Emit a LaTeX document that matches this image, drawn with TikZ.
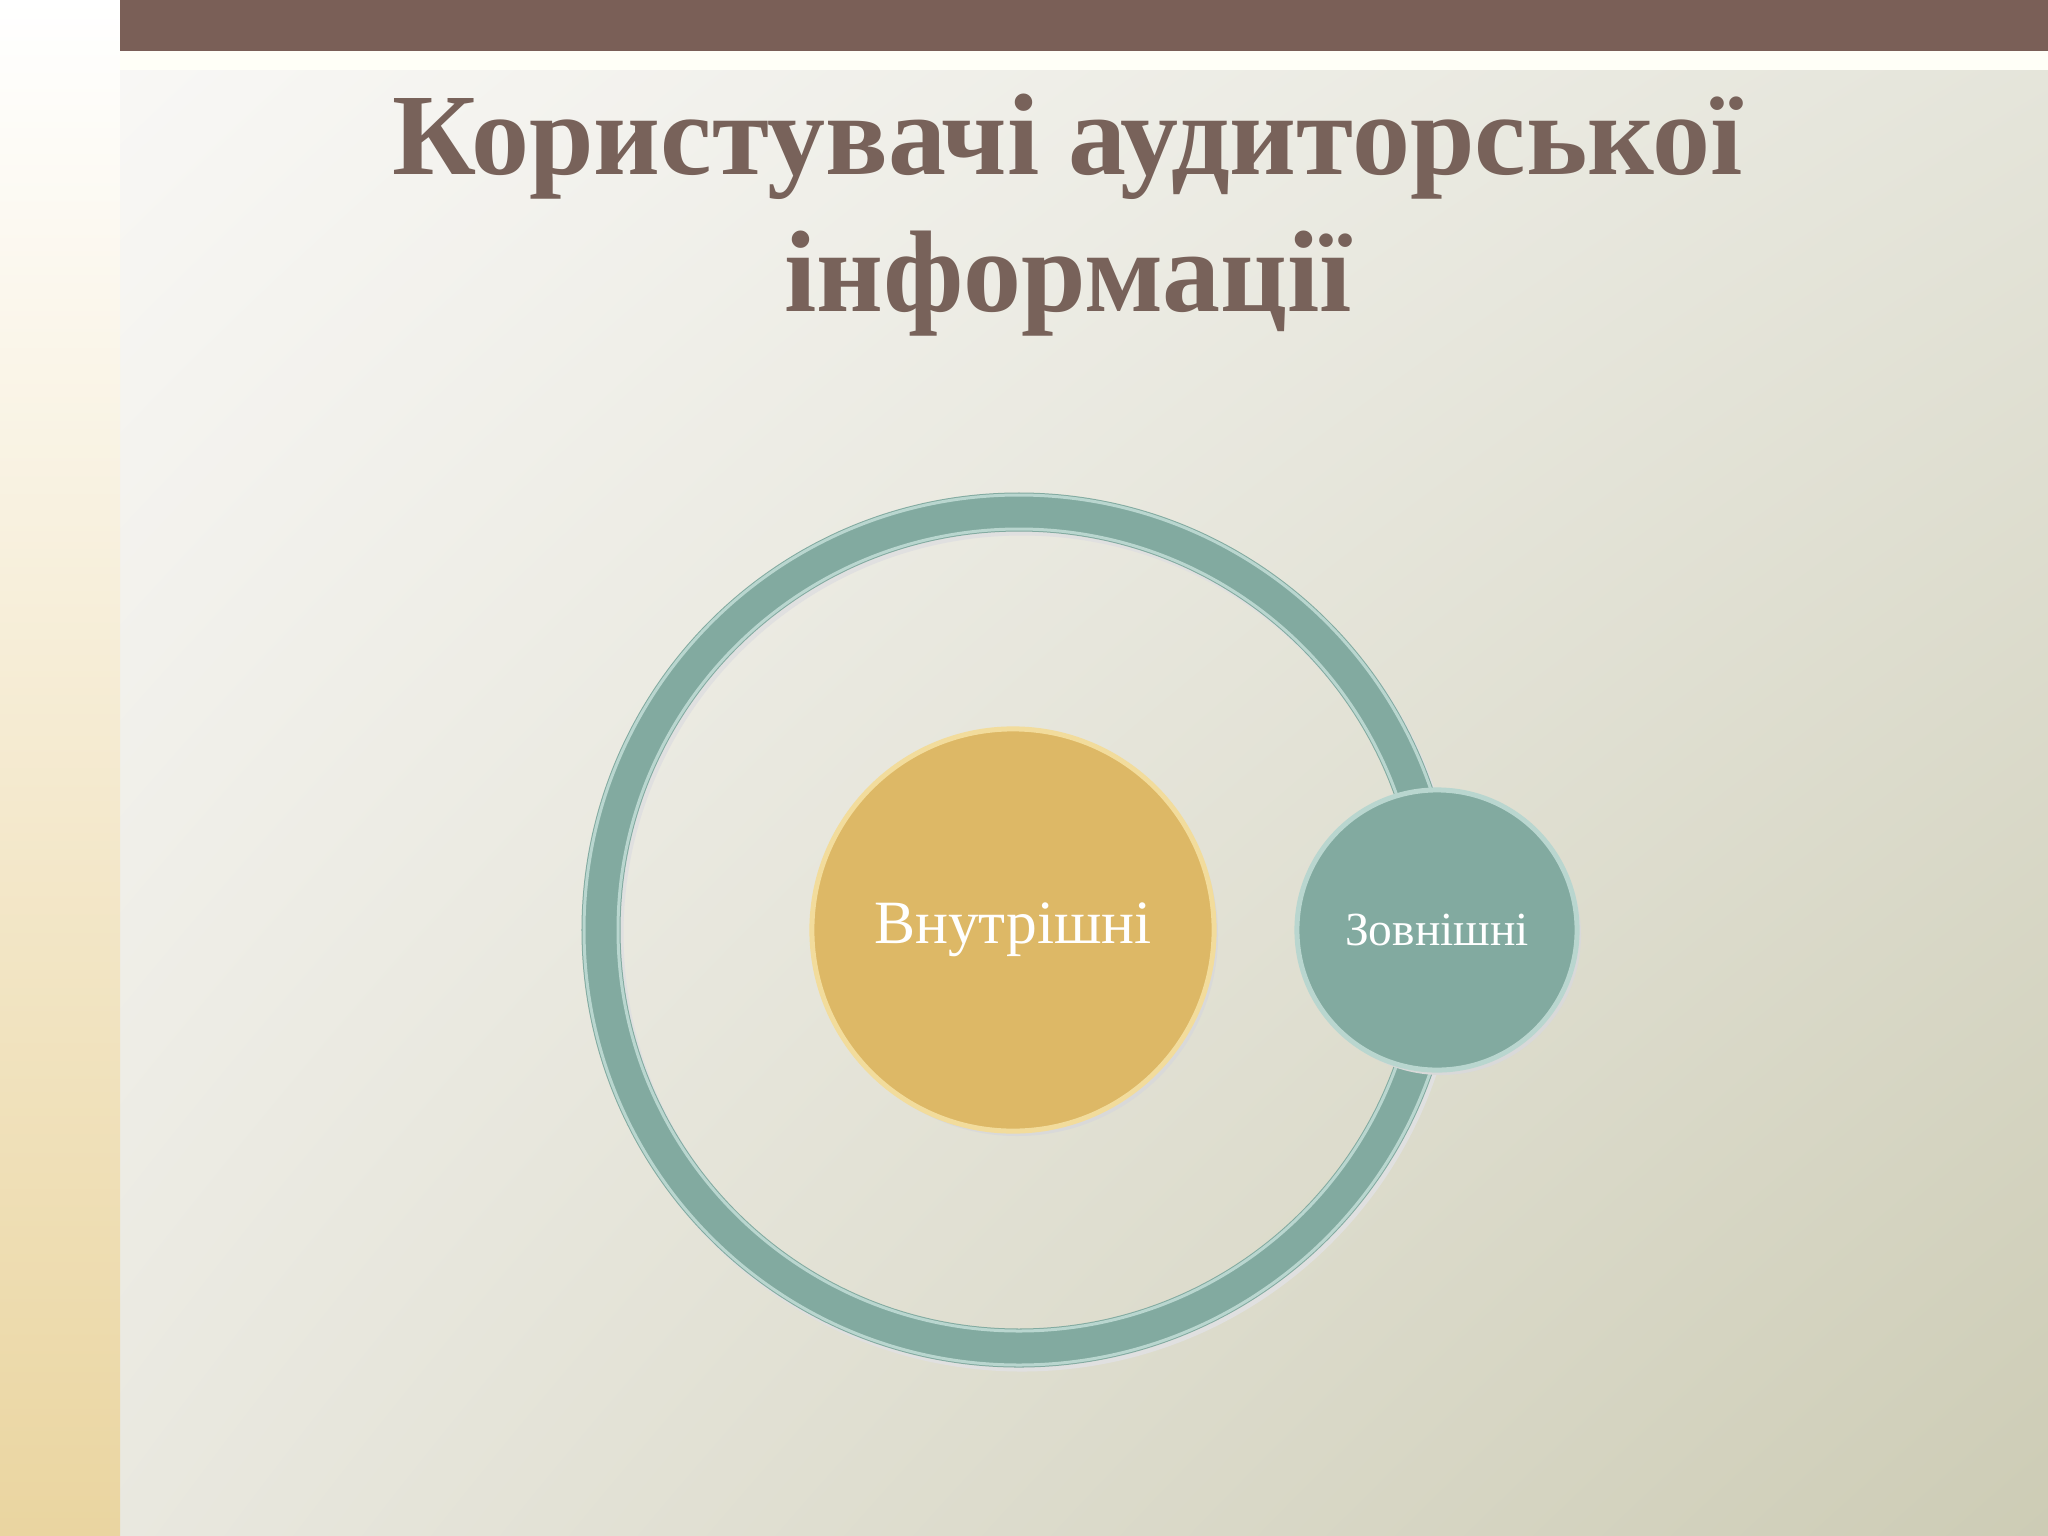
\documentclass[tikz,border=0pt]{standalone}
\usepackage{fontspec}
\setmainfont{Liberation Serif}
\usepackage{tikz}
\usetikzlibrary{shadings}

\definecolor{barbrown}{HTML}{7A5F57}
\definecolor{titlebrown}{HTML}{78625A}
\definecolor{ringteal}{HTML}{82AAA0}
\definecolor{rimteal}{HTML}{B9D6CF}
\definecolor{gold}{HTML}{DDB866}
\definecolor{rimgold}{HTML}{F2DC9C}
\definecolor{strip}{HTML}{EAD5A0}
\definecolor{bgul}{HTML}{F9F8F6}
\definecolor{bgur}{HTML}{E6E6DC}
\definecolor{bgll}{HTML}{E9E8DF}
\definecolor{bglr}{HTML}{CDCCB5}

\tikzset{
	titletext/.style={anchor=base,text=titlebrown,font=\fontsize{33}{36}\selectfont\bfseries},
	bubble/.style={circle,draw=#1,line width=0.05cm,inner sep=0pt,text=white},
}

\begin{document}
\begin{tikzpicture}[x=0.01cm,y=-0.01cm]
	\useasboundingbox (0,0) rectangle (2048,1536);
	% background
	\shade[upper left=bgul,upper right=bgur,lower left=bgll,lower right=bglr]
		(120,0) rectangle (2048,1536);
	\shade[top color=white,bottom color=strip] (0,0) rectangle (120,1536);
	\fill[barbrown] (120,0) rectangle (2048,51);
	\fill[white!97!yellow] (120,51) rectangle (2048,70);

	% title
	\node[titletext] (title1) at (1068,174) {Користувачі аудиторської};
	\node[titletext] (title2) at (1068,311) {інформації};

	% ring
	\draw[black!12,line width=0.39cm] (1022,934) circle (418);
	\draw[ringteal,line width=0.39cm] (1019,930) circle (418);
	\draw[rimteal,line width=0.03cm] (1019,930) circle (435);
	\draw[rimteal,line width=0.03cm] (1019,930) circle (401);

	% inner and outer users
	\fill[black!15] (1017,935) circle (201);
	\node[bubble=rimgold,fill=gold,minimum size=4.02cm,font=\fontsize{17.5}{20}\selectfont] (inner) at (1013,930) {Внутрішні};
	\fill[black!15] (1441,935) circle (140);
	\node[bubble=rimteal,fill=ringteal,minimum size=2.8cm,font=\fontsize{13.5}{15}\selectfont] (outer) at (1437,930) {Зовнішні};
\end{tikzpicture}
\end{document}
